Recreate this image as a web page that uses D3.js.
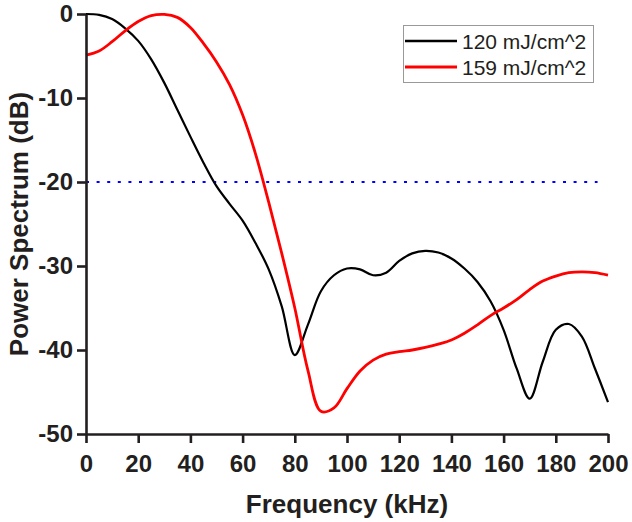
<!DOCTYPE html>
<html>
<head>
<meta charset="utf-8">
<script src="https://cdn.jsdelivr.net/npm/d3@7"></script>
<style>
  body { margin: 0; background: #fff; }
  svg { display: block; font-family: "Liberation Sans", Arial, sans-serif; }
</style>
</head>
<body>
<svg id="chart" width="632" height="522"></svg>
<script>
// frequency samples (kHz)
const freq = [0, 5, 10, 15, 20, 25, 30, 35, 40, 45, 50, 55, 60, 65, 70, 75, 80, 85, 90, 95,
  100, 105, 110, 115, 120, 125, 130, 135, 140, 145, 150, 155, 160, 165, 170, 175, 180, 185, 190, 195, 200];

// 120 mJ/cm^2 power spectrum (dB)
const spec120 = [0, -0.1, -0.6, -1.7, -3.2, -5.4, -8.2, -11.4, -14.6, -17.7, -20.5, -22.6, -24.6, -27.3, -30.4,
  -34.8, -40.6, -37.0, -33.0, -31.1, -30.3, -30.4, -31.1, -30.8, -29.4, -28.5, -28.2, -28.4, -29.1, -30.3,
  -31.9, -34.2, -37.6, -42.2, -45.8, -41.4, -37.6, -36.9, -38.4, -42.2, -46.2];

// 159 mJ/cm^2 power spectrum (dB)
const spec159 = [-4.9, -4.4, -3.3, -2.0, -0.9, -0.2, -0.05, -0.4, -1.6, -3.5, -5.7, -8.4, -12.0, -16.7, -22.4,
  -28.5, -35.0, -42.4, -47.3, -46.9, -44.6, -42.5, -41.2, -40.5, -40.2, -40.0, -39.7, -39.3, -38.8, -38.0,
  -37.0, -35.9, -35.0, -34.0, -32.8, -31.8, -31.2, -30.8, -30.7, -30.8, -31.1];

const seriesNames = ['120 mJ/cm^2', '159 mJ/cm^2'];
const seriesColors = ['#000000', '#ff0000'];

const xTicks = [0, 20, 40, 60, 80, 100, 120, 140, 160, 180, 200];
const yTicks = [0, -10, -20, -30, -40, -50];
const refLevel = -20;
const refRange = [0, 196];

const svg = d3.select('#chart');

const x = d3.scaleLinear().domain([0, 200]).range([86, 608]);
const y = d3.scaleLinear().domain([-50, 0]).range([434, 14]);

// threshold line
svg.append('line')
  .attr('x1', x(refRange[0])).attr('x2', x(refRange[1]))
  .attr('y1', y(refLevel)).attr('y2', y(refLevel))
  .attr('stroke', '#0000ff')
  .attr('stroke-width', 2.2)
  .attr('stroke-dasharray', '3,7.6');

// curves
const line = d3.line()
  .x(d => x(d[0]))
  .y(d => y(d[1]))
  .curve(d3.curveCatmullRom.alpha(0.5));

[spec120, spec159].forEach((vals, i) => {
  svg.append('path')
    .datum(freq.map((f, j) => [f, vals[j]]))
    .attr('fill', 'none')
    .attr('stroke', seriesColors[i])
    .attr('stroke-width', i === 0 ? 2.2 : 2.8)
    .attr('d', line);
});

// x axis
const fmt = d => String(d);
const xAxis = svg.append('g').attr('transform', `translate(0,${y(-50)})`);
xAxis.call(d3.axisBottom(x).tickValues(d3.range(0, 201, 10)).tickSize(4).tickFormat(''));
xAxis.call(d3.axisBottom(x).tickValues(xTicks).tickSize(9).tickSizeOuter(0).tickPadding(12).tickFormat(fmt));

// y axis
const yAxis = svg.append('g').attr('transform', `translate(${x(0)},0)`);
yAxis.call(d3.axisLeft(y).tickValues(d3.range(-50, 1, 5)).tickSize(4).tickFormat(''));
yAxis.call(d3.axisLeft(y).tickValues(yTicks).tickSize(9).tickSizeOuter(0).tickPadding(4).tickFormat(fmt));

svg.selectAll('.domain, .tick line')
  .attr('stroke', '#231f20')
  .attr('stroke-width', 2.6);
svg.selectAll('.tick text')
  .attr('fill', '#231f20')
  .style('font-size', '24px')
  .style('font-weight', 'bold')
  .style('font-family', '"Liberation Sans", Arial, sans-serif');

// axis titles
svg.append('text')
  .attr('x', (x(0) + x(200)) / 2)
  .attr('y', 513)
  .attr('text-anchor', 'middle')
  .attr('fill', '#231f20')
  .style('font-size', '26px')
  .style('font-weight', 'bold')
  .text('Frequency (kHz)');

svg.append('text')
  .attr('transform', `translate(28,${(y(0) + y(-50)) / 2}) rotate(-90)`)
  .attr('text-anchor', 'middle')
  .attr('fill', '#231f20')
  .style('font-size', '26px')
  .style('font-weight', 'bold')
  .text('Power Spectrum (dB)');

// legend
const legend = svg.append('g');
legend.append('rect')
  .attr('x', 403.5).attr('y', 25.5)
  .attr('width', 190).attr('height', 57)
  .attr('fill', '#fff')
  .attr('stroke', '#999')
  .attr('stroke-width', 1);

seriesNames.forEach((name, i) => {
  const cy = 41 + i * 26;
  legend.append('line')
    .attr('x1', 405).attr('x2', 457)
    .attr('y1', cy).attr('y2', cy)
    .attr('stroke', seriesColors[i])
    .attr('stroke-width', i === 0 ? 2.4 : 2.8);
  legend.append('text')
    .attr('x', 462).attr('y', cy + 8)
    .attr('fill', '#231f20')
    .style('font-size', '21px')
    .text(name);
});
</script>
</body>
</html>
